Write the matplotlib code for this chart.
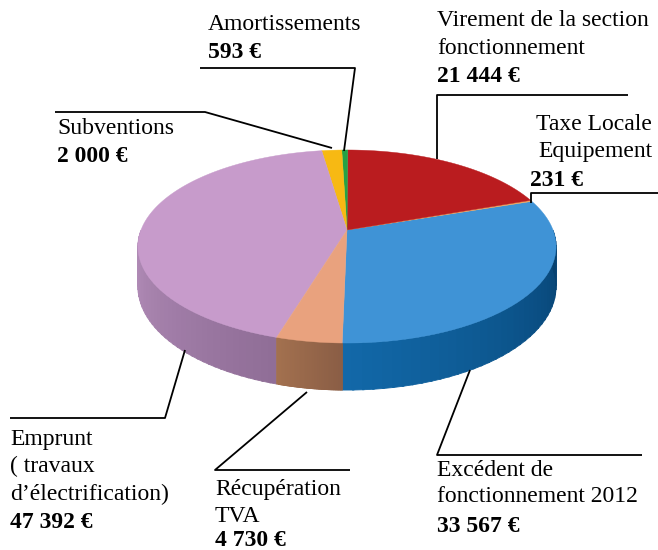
import matplotlib.pyplot as plt
import numpy as np
from matplotlib.colors import to_rgb

# Données (budget d'investissement)
labels = ['Virement de la section fonctionnement', 'Taxe Locale Equipement',
          'Excédent de fonctionnement 2012', 'Récupération TVA',
          'Emprunt ( travaux d’électrification)', 'Subventions', 'Amortissements']
valeurs = [21444, 231, 33567, 4730, 47392, 2000, 593]
montants = ['21 444 €', '231 €', '33 567 €', '4 730 €', '47 392 €', '2 000 €', '593 €']

couleurs = ['#BA1C1F', '#F2A55A', '#3F93D6', '#E9A27E', '#C79BCB', '#F7B913', '#25A245']
cotes = {2: ('#1268A8', '#06406E'), 3: ('#A3714F', '#8A5D45'), 4: ('#B690BC', '#8F6D96')}

# géométrie du camembert 3D (pixels)
cx, cy = 347, 230
Rx, Ry, k, H = 206, 93.7, 0.171, 39

def proj(t, dz=0.0):
    t = np.radians(t)
    f = 1.0 / (1.0 + k * np.sin(t))
    return cx + Rx * np.cos(t) * f, cy - Ry * np.sin(t) * f + dz * f

fig = plt.figure(figsize=(6.58, 5.5), dpi=100)
ax = fig.add_axes([0, 0, 1, 1])
ax.set_xlim(0, 658)
ax.set_ylim(550, 0)
ax.axis('off')

# ordre anti-horaire : bleu, taxe, rouge, vert, jaune, violet, saumon
total = sum(valeurs)
ordre = [2, 1, 0, 6, 5, 4, 3]
bornes = []
a = 268.9 - 360
for i in ordre:
    b = a + valeurs[i] / total * 360
    bornes.append((i, a, b))
    a = b

# côtés (partie avant) avec dégradé
for i, a, b in bornes:
    if i not in cotes:
        continue
    for lo_v, hi_v in [(-180, 0), (180, 360)]:
        lo, hi = max(a, lo_v), min(b, hi_v)
        if hi <= lo:
            continue
        ts = np.linspace(lo, hi, 40)
        c1, c2 = np.array(to_rgb(cotes[i][0])), np.array(to_rgb(cotes[i][1]))
        for j in range(len(ts) - 1):
            s = (ts[j] - lo) / (hi - lo)
            col = c1 + (c2 - c1) * s
            t2 = np.array([ts[j], min(ts[j + 1] + 0.4, hi)])
            xt, yt = proj(t2)
            xb, yb = proj(t2[::-1], H)
            ax.fill(np.r_[xt, xb], np.r_[yt, yb], color=col, lw=0.6, ec=col)

# dessus
for i, a, b in bornes:
    ts = np.linspace(a, b, 120)
    xs, ys = proj(ts)
    ax.fill(np.r_[cx, xs], np.r_[cy, ys], color=couleurs[i], lw=0.3,
            ec=couleurs[i])

# étiquettes et traits de rappel
police = dict(family='Liberation Serif', fontsize=17, va='center')

def trait(xs, ys):
    ax.plot(xs, ys, color='black', lw=1.3, solid_capstyle='butt')

ax.text(208, 24, 'Amortissements', **police)
ax.text(208, 53, montants[6], fontweight='bold', **police)
trait([200, 355, 344], [68, 68, 151])

ax.text(437, 20, 'Virement de la section', **police)
ax.text(437, 48, 'fonctionnement', **police)
ax.text(437, 77, montants[0], fontweight='bold', **police)
trait([628, 437, 437], [95, 95, 159])

ax.text(57, 128, 'Subventions', **police)
ax.text(57, 157, montants[5], fontweight='bold', **police)
trait([55, 205, 332], [112, 112, 148])

ax.text(652, 125, 'Taxe Locale', ha='right', **police)
ax.text(652, 152, 'Equipement', ha='right', **police)
ax.text(530, 180, montants[1], fontweight='bold', **police)
trait([658, 531, 531], [193, 193, 203])

ax.text(10, 440, 'Emprunt', **police)
ax.text(10, 466, '( travaux', **police)
ax.text(10, 494, 'd’électrification)', **police)
ax.text(10, 522, montants[4], fontweight='bold', **police)
trait([10, 165, 185], [418, 418, 350])

ax.text(215, 490, 'Récupération', **police)
ax.text(215, 516, 'TVA', **police)
ax.text(215, 540, montants[3], fontweight='bold', **police)
trait([350, 215, 307], [470, 470, 392])

ax.text(437, 470, 'Excédent de', **police)
ax.text(437, 497, 'fonctionnement 2012', **police)
ax.text(437, 526, montants[2], fontweight='bold', **police)
trait([642, 437, 470], [455, 455, 370])

fig.savefig('out.png', dpi=100)
